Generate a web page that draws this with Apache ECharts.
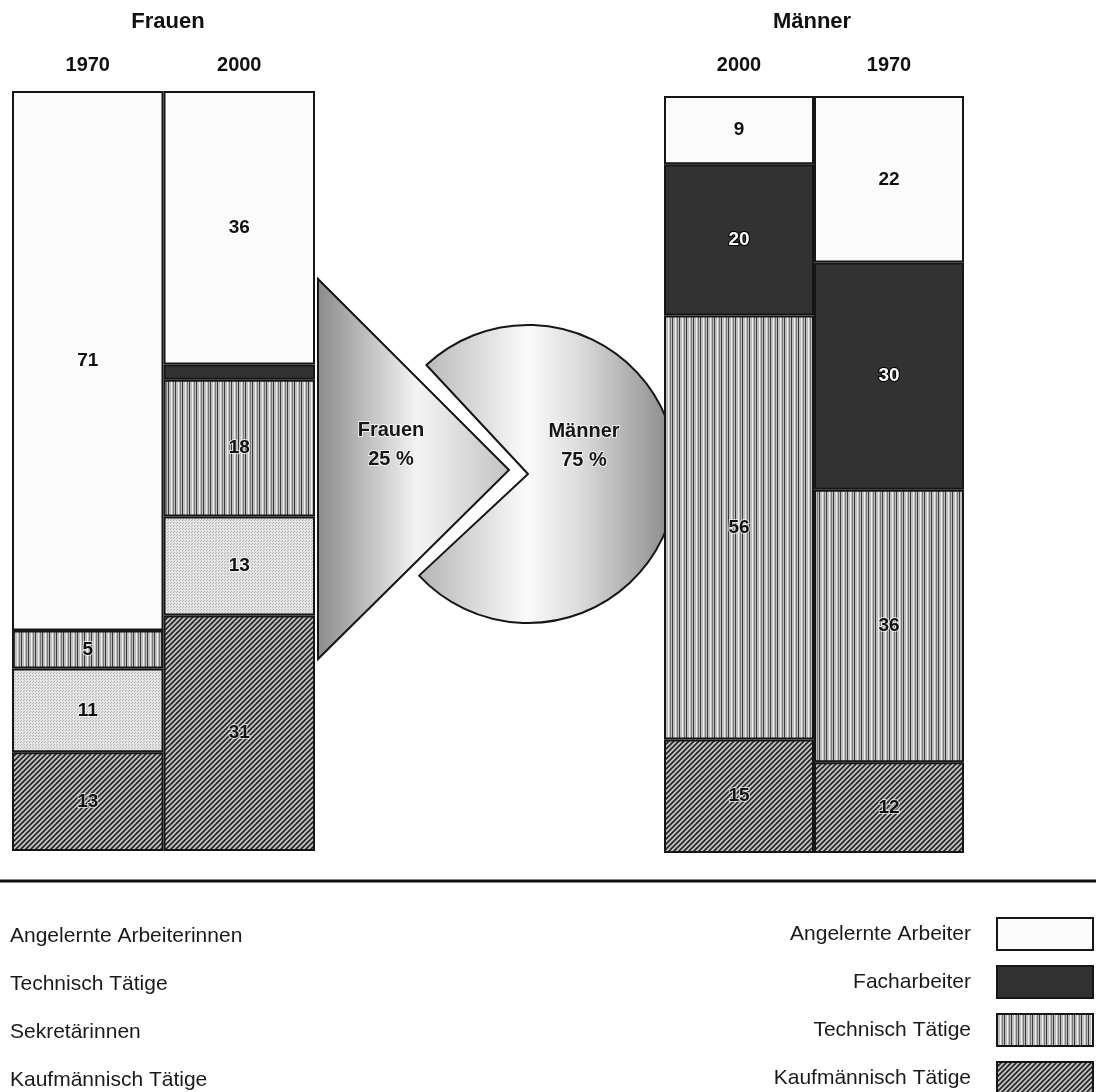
<!DOCTYPE html>
<html>
<head>
<meta charset="utf-8">
<script src="https://cdn.jsdelivr.net/npm/echarts@6/dist/echarts.min.js"></script>
<style>
  html, body { margin: 0; padding: 0; background: #fff; }
  #chart { width: 1096px; height: 1092px; }
</style>
</head>
<body>
<div id="chart"></div>
<script>
// Berufsgruppen nach Geschlecht, Anteile in Prozent
const frauenYears = ['1970', '2000'];
const maennerYears = ['2000', '1970'];

const frauenKaufm = [13, 31];
const frauenSekr = [11, 13];
const frauenTechn = [5, 18];
const frauenFach = [0, 2];
const frauenAngel = [71, 36];

const maennerKaufm = [15, 12];
const maennerTechn = [56, 36];
const maennerFach = [20, 30];
const maennerAngel = [9, 22];

// Gesamtverteilung Frauen / Männer
const shareNames = ['Frauen', 'Männer'];
const shareValues = [25, 75];

const FONT = '"Liberation Sans", Arial, Helvetica, sans-serif';

function makePattern(w, h, draw) {
  const c = document.createElement('canvas');
  c.width = w; c.height = h;
  const ctx = c.getContext('2d');
  draw(ctx, w, h);
  return { image: c, repeat: 'repeat' };
}

// diagonal hatching
const hatch = makePattern(5, 5, (ctx, w, h) => {
  ctx.fillStyle = '#c4c4c4';
  ctx.fillRect(0, 0, w, h);
  ctx.strokeStyle = '#262626';
  ctx.lineWidth = 1.7;
  ctx.beginPath();
  ctx.moveTo(-1, h + 1); ctx.lineTo(w + 1, -1);
  ctx.moveTo(-1, 1); ctx.lineTo(1, -1);
  ctx.moveTo(w - 1, h + 1); ctx.lineTo(w + 1, h - 1);
  ctx.stroke();
});

// vertical stripes
const stripes = makePattern(7, 4, (ctx, w, h) => {
  ctx.fillStyle = '#bebebe';
  ctx.fillRect(0, 0, w, h);
  ctx.fillStyle = '#3a3a3a';
  ctx.fillRect(0, 0, 1, h);
  ctx.fillStyle = '#eeeeee';
  ctx.fillRect(3, 0, 1, h);
  ctx.fillStyle = '#7a7a7a';
  ctx.fillRect(5, 0, 1, h);
});

// fine dots
const dots = makePattern(3, 3, (ctx, w, h) => {
  ctx.fillStyle = '#e3e3e3';
  ctx.fillRect(0, 0, w, h);
  ctx.fillStyle = '#b5b5b5';
  ctx.fillRect(0, 0, 1, 1);
  ctx.fillRect(2, 1, 1, 1);
});

const WHITE = '#fbfbfb';
const DARK = '#323232';
const BORDER = { borderColor: '#161616', borderWidth: 2 };

const labelDark = {
  show: true, position: 'inside',
  fontFamily: FONT, fontWeight: 'bold', fontSize: 19, color: '#111',
  textBorderColor: 'rgba(255,255,255,0.65)', textBorderWidth: 2,
  formatter: p => (p.value >= 3 ? String(p.value) : '')
};
const labelLight = Object.assign({}, labelDark, {
  color: '#fff', textBorderColor: '#000', textBorderWidth: 2
});

function barSeries(name, data, axis, stack, color, label) {
  return {
    type: 'bar', name, data, stack,
    xAxisIndex: axis, yAxisIndex: axis,
    barWidth: '100%',
    z: 3,
    itemStyle: Object.assign({ color }, BORDER),
    label,
    emphasis: { disabled: true }
  };
}

const chart = echarts.init(document.getElementById('chart'), null, { renderer: 'canvas' });

const yAxisBase = { type: 'value', min: 0, max: 100, show: false };
const xAxisBase = {
  type: 'category', position: 'top',
  axisLine: { show: false }, axisTick: { show: false },
  splitLine: { show: false },
  axisLabel: { fontFamily: FONT, fontWeight: 'bold', fontSize: 20, color: '#111' }
};

const legendText = { fontFamily: FONT, fontSize: 21, color: '#1a1a1a', lineHeight: 32 };

const option = {
  animation: false,
  backgroundColor: '#ffffff',
  grid: [
    { left: 12, top: 91, width: 303, height: 760 },
    { left: 664, top: 96, width: 300, height: 757 }
  ],
  xAxis: [
    Object.assign({}, xAxisBase, { gridIndex: 0, data: frauenYears,
      axisLabel: Object.assign({}, xAxisBase.axisLabel, { margin: 16 }) }),
    Object.assign({}, xAxisBase, { gridIndex: 1, data: maennerYears,
      axisLabel: Object.assign({}, xAxisBase.axisLabel, { margin: 21 }) })
  ],
  yAxis: [
    Object.assign({ gridIndex: 0 }, yAxisBase),
    Object.assign({ gridIndex: 1 }, yAxisBase)
  ],
  legend: [
    {
      orient: 'vertical', left: 5, top: 920, height: 200, padding: 0,
      icon: 'none', itemWidth: 0, itemHeight: 32, itemGap: 16,
      selectedMode: false,
      itemStyle: { opacity: 0 },
      textStyle: legendText,
      data: ['Angelernte Arbeiterinnen', 'Technisch Tätige', 'Sekretärinnen', 'Kaufmännisch Tätige']
    },
    {
      orient: 'vertical', right: 2, top: 917, height: 200, padding: 0, align: 'right',
      icon: 'rect', itemWidth: 96, itemHeight: 32, itemGap: 14,
      selectedMode: false,
      textStyle: Object.assign({}, legendText, { padding: [0, 21, 0, 0] }),
      data: ['Angelernte Arbeiter', 'Facharbeiter', 'Technisch Tätige', 'Kaufmännisch Tätige']
    }
  ],
  graphic: [
    { type: 'text', x: 168, y: 22, z: 10,
      style: { text: 'Frauen', font: 'bold 22px ' + FONT, fill: '#111',
        textAlign: 'center', textVerticalAlign: 'middle' } },
    { type: 'text', x: 812, y: 22, z: 10,
      style: { text: 'Männer', font: 'bold 22px ' + FONT, fill: '#111',
        textAlign: 'center', textVerticalAlign: 'middle' } },
    // Frauen-Keil
    { type: 'polygon', z: 1,
      shape: { points: [[318, 279], [318, 659], [509, 470]] },
      style: {
        fill: new echarts.graphic.LinearGradient(0, 0, 1, 0, [
          { offset: 0, color: '#8a8a8a' },
          { offset: 0.52, color: '#f4f4f4' },
          { offset: 1, color: '#c2c2c2' }
        ]),
        stroke: '#161616', lineWidth: 2
      } },
    { type: 'text', x: 391, y: 445, z: 10,
      style: { text: shareNames[0] + '\n' + shareValues[0] + ' %',
        font: 'bold 20px ' + FONT, lineHeight: 29, fill: '#161616',
        stroke: 'rgba(255,255,255,0.7)', lineWidth: 2,
        textAlign: 'center', textVerticalAlign: 'middle' } },
    { type: 'text', x: 584, y: 446, z: 10,
      style: { text: shareNames[1] + '\n' + shareValues[1] + ' %',
        font: 'bold 20px ' + FONT, lineHeight: 29, fill: '#161616',
        stroke: 'rgba(255,255,255,0.7)', lineWidth: 2,
        textAlign: 'center', textVerticalAlign: 'middle' } },
    // Trennlinie über der Legende
    { type: 'line', z: 10,
      shape: { x1: 0, y1: 881, x2: 1096, y2: 881 },
      style: { stroke: '#111', lineWidth: 3 } }
  ],
  series: [
    {
      type: 'pie', z: 1,
      center: [528, 474], radius: 149,
      startAngle: 133, clockwise: true,
      label: { show: false }, labelLine: { show: false },
      emphasis: { disabled: true },
      data: [
        { name: shareNames[1], value: shareValues[1],
          itemStyle: {
            color: new echarts.graphic.LinearGradient(0, 0, 1, 0, [
              { offset: 0, color: '#b4b4b4' },
              { offset: 0.42, color: '#fbfbfb' },
              { offset: 0.62, color: '#dcdcdc' },
              { offset: 1, color: '#858585' }
            ]),
            borderColor: '#161616', borderWidth: 2
          } },
        { name: shareNames[0], value: shareValues[0],
          itemStyle: { color: 'rgba(0,0,0,0)', borderWidth: 0 } }
      ]
    },
    barSeries('Kaufmännisch Tätige', frauenKaufm, 0, 'f', hatch, labelDark),
    barSeries('Sekretärinnen', frauenSekr, 0, 'f', dots, labelDark),
    barSeries('Technisch Tätige', frauenTechn, 0, 'f', stripes, labelDark),
    barSeries('Facharbeiterinnen', frauenFach, 0, 'f', DARK, labelLight),
    barSeries('Angelernte Arbeiterinnen', frauenAngel, 0, 'f', WHITE, labelDark),
    barSeries('Kaufmännisch Tätige', maennerKaufm, 1, 'm', hatch, labelDark),
    barSeries('Technisch Tätige', maennerTechn, 1, 'm', stripes, labelDark),
    barSeries('Facharbeiter', maennerFach, 1, 'm', DARK, labelLight),
    barSeries('Angelernte Arbeiter', maennerAngel, 1, 'm', WHITE, labelDark)
  ]
};

chart.setOption(option);
</script>
</body>
</html>
